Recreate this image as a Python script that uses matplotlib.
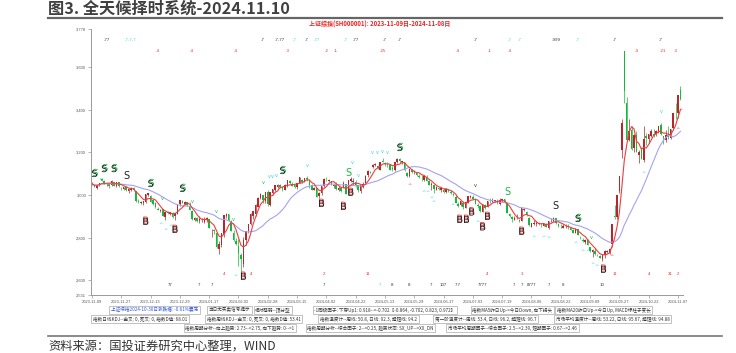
import matplotlib
matplotlib.use('Agg')
import matplotlib.pyplot as plt
import matplotlib.patheffects as pe
from matplotlib.lines import Line2D
import numpy as np
import pandas as pd

plt.rcParams['font.family'] = ['Noto Sans CJK SC', 'DejaVu Sans']

W, H = 736, 353

# trading calendar (SSE), holidays removed
holidays = ['2024-01-01', '2024-02-09', '2024-02-12', '2024-02-13', '2024-02-14',
            '2024-02-15', '2024-02-16', '2024-04-04', '2024-04-05', '2024-05-01',
            '2024-05-02', '2024-05-03', '2024-06-10', '2024-09-16', '2024-09-17',
            '2024-10-01', '2024-10-02', '2024-10-03', '2024-10-04', '2024-10-07']
dates = pd.bdate_range('2023-11-09', '2024-11-08', freq='C', holidays=holidays)

opens = [3050, 3049, 3035, 3046, 3074, 3068, 3050, 3051, 3046, 3060, 3043, 3059, 3034, 3030, 3037, 3017,
         3025, 3033, 3017, 2970, 2963, 2961, 2966, 3002, 2995, 2976, 2964, 2935, 2924, 2933, 2895, 2920, 2913, 2917, 2900, 2913, 2956,
         2972, 2958, 2966, 2950, 2924, 2885, 2891, 2877, 2882, 2875, 2885, 2888, 2834, 2835, 2823, 2745, 2765, 2815, 2902, 2912, 2880, 2823,
         2783, 2763, 2719, 2678, 2788, 2831, 2863, 2904, 2912, 2946, 2987, 2998, 2972, 3014, 2952,
         3010, 3022, 3036, 3045, 3036, 3024, 3044, 3065, 3054, 3045, 3036, 3058, 3071, 3060, 3082, 3073, 3045, 3026, 3033, 2994, 3010,
         3042, 3076, 3064, 3066, 3043, 3049, 3026, 3032, 3040, 3050, 3007, 3068, 3059, 3063, 3046, 3017, 3040, 3056, 3092, 3106,
         3132, 3141, 3137, 3120, 3160, 3149, 3147, 3143, 3127, 3119, 3156, 3167, 3155, 3154, 3104, 3090, 3119, 3106, 3102, 3088,
         3082, 3070, 3086, 3065, 3046, 3045, 3025, 3034, 3026, 3025, 3016, 3025, 3016, 3005, 2991, 2958, 2954, 2963, 2938,
         2964, 2990, 2992, 2979, 2951, 2947, 2922, 2954, 2946, 2974, 2969, 2972, 2974, 2960, 2975, 2981, 2963, 2909, 2896, 2883, 2891, 2884, 2880,
         2932, 2920, 2893, 2850, 2866, 2865, 2868, 2860, 2857, 2864, 2845, 2876, 2880, 2893, 2865, 2852, 2846, 2853, 2853, 2846, 2835, 2823,
         2839, 2804, 2791, 2780, 2787, 2754, 2733, 2739, 2718, 2716, 2700, 2717, 2734, 2729, 2770, 2901, 2896, 3018, 3212,
         3674, 3434, 3258, 3305, 3219, 3283, 3187, 3219, 3163, 3275, 3262, 3276, 3285, 3285, 3300, 3330, 3275, 3260,
         3282, 3270, 3313, 3385, 3383, 3495]
highs = [3059, 3053, 3048, 3058, 3076, 3071, 3058, 3055, 3069, 3063, 3063, 3062, 3040, 3039, 3041, 3031,
         3036, 3036, 3018, 2982, 2972, 2974, 3005, 3011, 2998, 2982, 2969, 2945, 2936, 2936, 2921, 2926, 2920, 2920, 2916, 2958, 2976,
         2976, 2971, 2969, 2966, 2929, 2897, 2896, 2901, 2894, 2895, 2896, 2890, 2841, 2843, 2829, 2785, 2821, 2908, 2918, 2913, 2884, 2838,
         2798, 2794, 2727, 2802, 2831, 2866, 2917, 2924, 2958, 2989, 3011, 2999, 3016, 3025, 3016,
         3028, 3049, 3050, 3051, 3039, 3051, 3069, 3072, 3059, 3054, 3056, 3086, 3076, 3080, 3091, 3077, 3050, 3040, 3034, 3015, 3043,
         3078, 3085, 3077, 3068, 3053, 3059, 3043, 3037, 3064, 3052, 3072, 3087, 3080, 3069, 3049, 3047, 3060, 3093, 3117, 3115,
         3146, 3150, 3141, 3155, 3175, 3155, 3154, 3144, 3136, 3155, 3175, 3172, 3162, 3155, 3108, 3124, 3121, 3119, 3110, 3098,
         3092, 3092, 3092, 3073, 3060, 3053, 3043, 3039, 3034, 3034, 3032, 3030, 3025, 3012, 2998, 2966, 2973, 2970, 2970,
         2997, 2998, 3000, 2986, 2963, 2952, 2959, 2958, 2972, 2986, 2985, 2978, 2981, 2987, 2983, 2981, 2968, 2916, 2904, 2900, 2912, 2889, 2939,
         2941, 2927, 2899, 2870, 2883, 2880, 2872, 2871, 2871, 2869, 2880, 2892, 2895, 2894, 2867, 2865, 2865, 2862, 2862, 2851, 2842, 2845,
         2840, 2809, 2797, 2792, 2795, 2758, 2747, 2751, 2725, 2720, 2718, 2741, 2743, 2751, 2864, 2952, 3000, 3088, 3359,
         3674, 3459, 3357, 3323, 3285, 3302, 3210, 3224, 3322, 3290, 3286, 3310, 3309, 3304, 3323, 3338, 3278, 3306,
         3324, 3311, 3387, 3433, 3471, 3510]
lows = [3046, 3036, 3028, 3042, 3064, 3050, 3043, 3034, 3044, 3041, 3040, 3039, 3024, 3025, 3020, 3011,
        3019, 3017, 2966, 2964, 2958, 2955, 2963, 2996, 2966, 2954, 2941, 2928, 2921, 2902, 2883, 2911, 2906, 2892, 2882, 2910, 2951,
        2961, 2954, 2950, 2929, 2885, 2877, 2875, 2870, 2874, 2870, 2872, 2845, 2802, 2817, 2752, 2724, 2757, 2803, 2892, 2879, 2830, 2786,
        2766, 2666, 2635, 2661, 2765, 2820, 2858, 2890, 2904, 2944, 2982, 2962, 2965, 2948, 2948,
        3002, 3017, 3034, 3035, 3017, 3022, 3036, 3052, 3041, 3033, 3030, 3058, 3055, 3059, 3067, 3035, 3024, 3024, 2993, 2986, 2998,
        3039, 3068, 3063, 3046, 3034, 3026, 3020, 3016, 3035, 3005, 3006, 3062, 3046, 3040, 3016, 3012, 3035, 3056, 3084, 3102,
        3128, 3135, 3124, 3120, 3154, 3137, 3134, 3118, 3114, 3111, 3152, 3150, 3146, 3115, 3087, 3087, 3104, 3100, 3088, 3081,
        3067, 3066, 3064, 3045, 3023, 3011, 3025, 3026, 3016, 3012, 3012, 3013, 3007, 2995, 2963, 2946, 2948, 2933, 2938,
        2962, 2987, 2982, 2957, 2939, 2922, 2919, 2935, 2944, 2962, 2967, 2967, 2959, 2952, 2966, 2964, 2915, 2899, 2873, 2881, 2888, 2874, 2880,
        2923, 2904, 2857, 2850, 2861, 2857, 2858, 2851, 2853, 2850, 2841, 2873, 2875, 2865, 2852, 2845, 2844, 2844, 2842, 2834, 2822, 2822,
        2811, 2795, 2779, 2771, 2765, 2733, 2707, 2721, 2712, 2704, 2690, 2703, 2730, 2725, 2755, 2889, 2890, 3008, 3174,
        3432, 3258, 3255, 3211, 3202, 3200, 3152, 3169, 3153, 3234, 3243, 3272, 3272, 3276, 3289, 3283, 3240, 3251,
        3265, 3262, 3307, 3356, 3360, 3448]
closes = [3053, 3039, 3046, 3056, 3073, 3051, 3054, 3044, 3068, 3043, 3062, 3041, 3032, 3039, 3022, 3030,
          3032, 3023, 2972, 2969, 2966, 2970, 3004, 3009, 2969, 2959, 2943, 2931, 2932, 2902, 2919, 2915, 2919, 2899, 2915, 2955, 2975,
          2962, 2967, 2954, 2929, 2888, 2893, 2878, 2887, 2882, 2886, 2894, 2846, 2834, 2832, 2756, 2771, 2821, 2906, 2910, 2883, 2831, 2789,
          2771, 2730, 2702, 2790, 2830, 2866, 2911, 2923, 2952, 2988, 3005, 2977, 3016, 2958, 3015,
          3027, 3048, 3048, 3040, 3027, 3046, 3069, 3056, 3044, 3038, 3055, 3085, 3063, 3080, 3077, 3048, 3026, 3032, 2993, 3011, 3041,
          3077, 3075, 3069, 3047, 3048, 3027, 3034, 3020, 3057, 3007, 3071, 3074, 3065, 3045, 3022, 3045, 3053, 3089, 3113, 3105,
          3141, 3148, 3129, 3154, 3155, 3148, 3146, 3120, 3122, 3154, 3171, 3158, 3159, 3116, 3089, 3124, 3110, 3111, 3092, 3087,
          3079, 3091, 3065, 3049, 3051, 3028, 3038, 3029, 3033, 3016, 3030, 3018, 3008, 2998, 2963, 2950, 2973, 2946, 2967,
          2995, 2997, 2982, 2958, 2950, 2923, 2959, 2939, 2970, 2971, 2974, 2976, 2962, 2977, 2982, 2964, 2915, 2902, 2886, 2891, 2892, 2879, 2939,
          2932, 2905, 2861, 2867, 2870, 2870, 2862, 2858, 2868, 2851, 2877, 2879, 2894, 2867, 2857, 2849, 2854, 2856, 2848, 2837, 2823, 2842,
          2811, 2803, 2784, 2788, 2766, 2737, 2744, 2722, 2717, 2704, 2717, 2736, 2737, 2749, 2863, 2896, 3001, 3088, 3337,
          3490, 3259, 3302, 3218, 3284, 3201, 3203, 3169, 3262, 3268, 3286, 3303, 3280, 3300, 3322, 3286, 3266, 3280,
          3272, 3310, 3387, 3384, 3471, 3452]

y_ticks = [2531, 2600, 2800, 3000, 3200, 3400, 3600, 3778]

# signal marks: (day index, label, colour key)
top_marks = [(6, '-77', 'k'), (16, '-7-7-7', 'c'), (70, '-7', 'k'), (77, '-7-77', 'k'), (83, '-7', 'c'),
             (88, '-7', 'k'), (92, '-77', 'c'), (104, '-7', 'c'), (108, '-77', 'k'), (120, '-7', 'k'),
             (126, '-7', 'k'), (157, '-7', 'k'), (171, '-7', 'c'), (175, '-7', 'c'), (190, '-999', 'k'),
             (199, '-7', 'c'), (214, '-7', 'k'), (233, '-7', 'k')]
top_red = [(27, '-4'), (41, '-4'), (59, '-4'), (80, '-3'), (96, '-2'), (100, '-1'), (119, '-25'),
           (150, '-4'), (163, '-1'), (171, '-4'), (223, '-4'), (234, '-21'), (239, '-3')]
bot_red = [(54, '4'), (65, '4'), (95, '2'), (113, '11'), (162, '4'), (176, '3'), (214, '11'),
           (228, '4'), (237, '31'), (240, '2')]
bot_marks = [(32, '77', 'k'), (44, '7', 'k'), (49, '7', 'k'), (95, '7', 'k'), (118, '7', 'c'), (123, '8', 'k'),
             (130, '8', 'k'), (139, '7', 'k'), (144, '107', 'k'), (150, '7.7', 'k'), (160, '7777', 'k'),
             (173, '7', 'k'), (176, '7', 'k'), (180, '8777', 'k'), (187, '7', 'k'), (193, '8', 'k'), (209, '10', 'k')]

# S / B signals: (day index, price level, style)
s_signals = [(1, 3099, 'gk'), (5, 3122, 'gk'), (9, 3122, 'gk'), (14, 3090, 'k'), (24, 3052, 'gk'),
             (37, 3029, 'gk'), (78, 3113, 'gk'), (105, 3104, 'g'), (126, 3221, 'gk'), (170, 3014, 'g'),
             (190, 2949, 'k'), (199, 2888, 'gk')]
b_signals = [(22, 2874, 'B'), (34, 2836, 'B'), (62, 2616, 'B'), (94, 2958, 'B'), (103, 2944, 'B'),
             (106, 3010, 'B'), (152, 2883, 'BB'), (155.5, 2918, 'B'), (160, 2848, 'B'), (162, 2897, 'B'),
             (176, 2827, 'B'), (209.5, 2649, 'B')]
# small arrows: (day index, price level, char, colour key)
small_marks = [(4, 3071, 'v', 'g'), (29, 2986, 'v', 'g'), (41, 2972, 'v', 'g'), (51, 2921, 'v', 'g'),
               (58, 2883, 'v', 'g'), (70, 3057, 'v', 'g'), (72.5, 3085, 'v', 'c'), (74, 3088, 'v', 'c'),
               (75.5, 3091, 'v', 'c'), (88, 3141, 'v', 'c'), (106.5, 3151, 'v', 'c'), (109, 3094, 'v', 'c'),
               (115, 3198, 'v', 'c'), (117, 3202, 'v', 'c'), (119, 3206, 'v', 'c'), (121, 3202, 'v', 'c'),
               (157, 3047, 'v', 'k'), (204.5, 2803, 'v', 'g'), (233, 3390, 'v', 'c'),
               (28, 2864, '^', 'c'), (30, 2836, '^', 'c'), (32, 2852, '^', 'c'), (59, 2616, '^', 'c'),
               (130, 3047, '^', 'r'), (136, 3014, '^', 'c'), (137.5, 3014, '^', 'c'), (139, 2986, '^', 'c'),
               (140, 2967, '^', 'c'), (147.5, 2953, '^', 'c'), (158, 2872, '^', 'c'), (181, 2803, '^', 'c'),
               (185, 2803, '^', 'c'), (187, 2795, '^', 'c'), (198, 2775, '^', 'c'), (201, 2733, '^', 'c'),
               (203, 2733, '^', 'c'), (205, 2672, '^', 'c'), (206.5, 2663, '^', 'c'), (213, 2710, '^', 'r'),
               (226, 3103, '^', 'c'), (240, 3310, '^', 'r'), (241, 3395, '^', 'r')]

info_rows = [
    [('上证综指2024-10-30日涨跌幅: -0.61%震荡', 154.5), ('当日无买卖信号提示', 229.5), ('相对强弱--顶分型', 273),
     ('-1同级因子: 下穿Up1: 0.918-->-0.702【-0.864, -0.702, 0.823, 0.972】', 385),
     ('指数MA5昨日Up->今日Down, 向下拐头', 512.5), ('指数MA20昨日Up->今日Up, MACD绿柱子变长', 603.5)],
    [('指数日线KDJ--金叉: 0, 死叉: 0, 指数D值: 68.01', 140), ('指数周线KDJ--金叉: 0, 死叉: 0, 指数D值: 53.41', 253.5),
     ('指数温度计--周线: 50.8, 日线: 92.3, 超短线: 94.2', 368.5), ('第一阶温度计--周线: 53.4, 日线: 96.2, 超短线: 96.7', 485.5),
     ('市场平均温度计--周线: 53.22, 日线: 95.67, 超短线: 94.88', 612.5)],
    [('指数周期分析--向上趋势: 2.73-->2.75, 向下趋势: 0-->1', 240),
     ('指数周期分析--综合因子: 2-->0.25, 趋势状态: SX_UP-->XX_DN', 370.5),
     ('市场平均周期因子--综合因子: 2.5-->2.39, 短期因子: 0.67-->2.46', 512.5)],
]
info_y = [310, 319, 328]

colors = {'k': '#333333', 'c': '#33d6e8', 'g': '#1fb84a', 'r': '#f03030'}
up_col, dn_col = '#b8262c', '#14b83c'

df = pd.DataFrame({'open': opens, 'high': highs, 'low': lows, 'close': closes}, index=dates[:len(closes)])
df['ma5'] = df['close'].rolling(5, min_periods=1).mean()
df['ma20'] = df['close'].rolling(20, min_periods=1).mean()
x = np.arange(len(df))

fig = plt.figure(figsize=(W / 100, H / 100), dpi=100)
ax = fig.add_axes([91 / W, 1 - 295 / H, (683 - 91) / W, (295 - 29.3) / H])

up = df['close'] >= df['open']
for mask, col in [(up, up_col), (~up, dn_col)]:
    ax.vlines(x[mask], df['low'][mask], df['high'][mask], color=col, lw=0.5)
    ax.bar(x[mask], (df['close'] - df['open'])[mask].abs().clip(lower=1.5),
           bottom=np.minimum(df['open'], df['close'])[mask], width=0.62, color=col, lw=0)

ax.plot(x, df['ma20'], color='#a3a3f2', lw=0.8)
ax.plot(x, df['ma5'], color='#f03c3c', lw=0.8)

ax.set_xlim(-0.41, 242.05)
ax.set_ylim(2531, 3778)

# signal labels
lab_kw = dict(fontsize=3.2, ha='center', va='center', family='Liberation Sans')
for i, lab, c in top_marks:
    ax.text(i, 3728, lab, color=colors[c], **lab_kw)
for i, lab in top_red:
    ax.text(i, 3676, lab, color=colors['r'], **lab_kw)
for i, lab in bot_red:
    ax.text(i, 2630, lab, color=colors['r'], **lab_kw)
for i, lab, c in bot_marks:
    ax.text(i, 2578, lab, color=colors[c], **lab_kw)

for i, v, st in s_signals:
    if st == 'gk':
        fx = [pe.PathPatchEffect(offset=(0.7, 0.7), facecolor=colors['g'], edgecolor='none'), pe.Normal()]
        ax.text(i, v, 'S', color='#222222', fontsize=7, ha='center', va='center',
                family='DejaVu Sans', path_effects=fx)
    else:
        ax.text(i, v, 'S', color=colors[st] if st == 'g' else '#222222', fontsize=7,
                ha='center', va='center', family='DejaVu Sans')
for i, v, lab in b_signals:
    fx = [pe.PathPatchEffect(offset=(0, 0.9), facecolor=colors['r'], edgecolor='none'), pe.Normal()]
    ax.text(i, v, lab, color='#222222', fontsize=7, ha='center', va='center', family='DejaVu Sans',
            path_effects=fx, linespacing=1)
for i, v, ch, c in small_marks:
    ax.text(i, v, ch, color=colors[c], fontsize=3.6, ha='center', va='center', family='DejaVu Sans')

# axes styling
for s in ['top', 'right']:
    ax.spines[s].set_visible(False)
for s in ['left', 'bottom']:
    ax.spines[s].set_color('#999999')
    ax.spines[s].set_linewidth(0.7)
tick_idx = list(range(0, len(df), 12))
ax.set_xticks(tick_idx)
ax.set_xticklabels([df.index[i].strftime('%Y-%m-%d') for i in tick_idx])
ax.set_yticks(y_ticks)
ax.set_yticklabels([f'{v:,}' for v in y_ticks])
ax.tick_params(axis='both', length=2, width=0.5, color='#999999', labelsize=2.9,
               labelcolor='#555555', pad=1.5)
for lab in ax.get_xticklabels() + ax.get_yticklabels():
    lab.set_family('Liberation Sans')

# chart title inside the plot
fig.text(380 / W, 1 - 24 / H, '上证综指(SH000001): 2023-11-09日-2024-11-08日', color='#ee2222',
         fontsize=4.3, fontweight='bold', ha='center', va='center')

# info boxes
for r, (row, yy) in enumerate(zip(info_rows, info_y)):
    for k, (txt, cx) in enumerate(row):
        col = '#3355dd' if (r == 0 and k == 0) else '#333333'
        fig.text(cx / W, 1 - yy / H, txt, fontsize=3.3, color=col, ha='center', va='center',
                 bbox=dict(boxstyle='square,pad=0.35', fc='white', ec='#aaaaaa', lw=0.5))

# header and footer
fig.text(48 / W, 1 - 8.5 / H, '图3. 全天候择时系统-2024.11.10', fontsize=11.7, fontweight='bold',
         color='#404040', ha='left', va='center')
fig.add_artist(Line2D([48 / W, 722 / W], [1 - 17.5 / H] * 2, color='#666666', lw=1.6))
fig.add_artist(Line2D([48 / W, 722 / W], [1 - 335.5 / H] * 2, color='#777777', lw=1.2))
fig.text(48 / W, 1 - 346 / H, '资料来源：国投证券研究中心整理，WIND', fontsize=8.8, style='italic',
         color='#333333', ha='left', va='center')

fig.savefig('out.png', dpi=100, facecolor='white')
